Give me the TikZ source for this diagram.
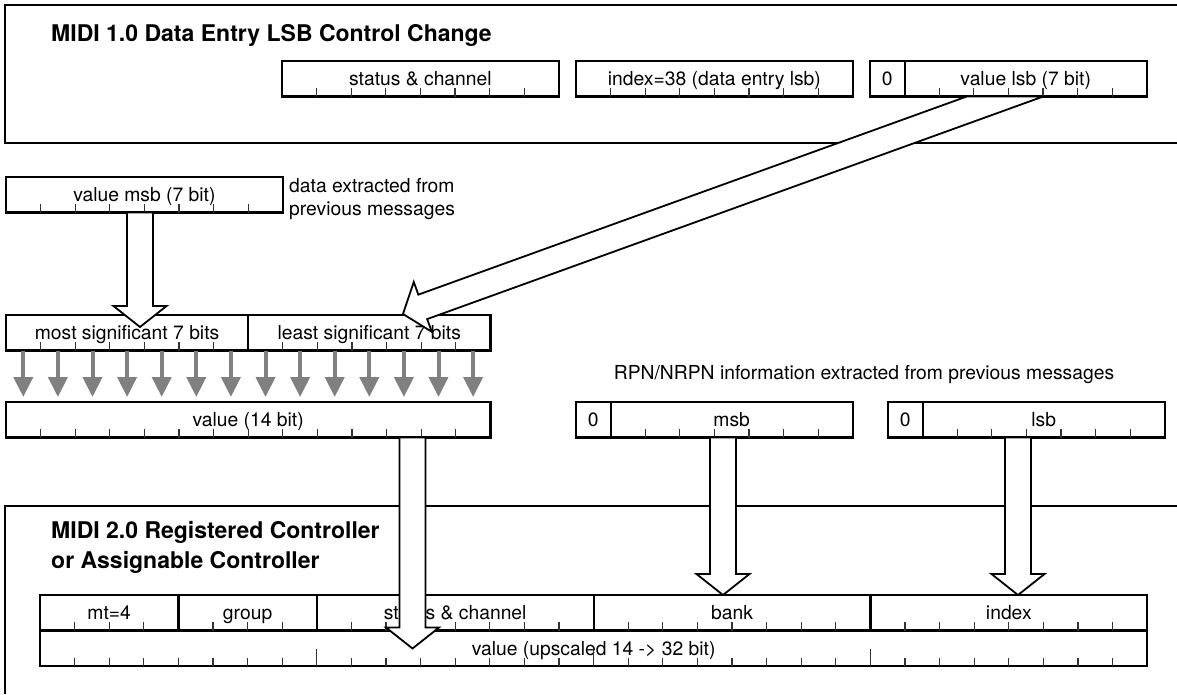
\documentclass[tikz,border=0pt]{standalone}
\usepackage{fontspec}
\setmainfont{TeX Gyre Heros}
\usepackage{tikz}
\usetikzlibrary{arrows.meta, positioning, calc}
\tikzset{
  bitbox/.style={
    rectangle, draw=black, line width=2.2pt, fill=white,
    minimum width=#1*34.6pt, minimum height=35.5pt,
    text height=15pt, text depth=1.5pt,
    inner sep=0pt, outer sep=0pt, anchor=north west,
    font=\fontsize{19.3}{22}\selectfont
  },
  bittick/.style={line width=1.2pt, draw=black!80},
  bitarrow/.style={-{Triangle[length=20pt,width=19pt]}, line width=4pt, draw=black!50},
  fat/.style={draw=black, line width=1.8pt, fill=white, line join=miter},
  panel/.style={line width=1.6pt, draw=black},
  heading/.style={anchor=base west, inner sep=0pt, font=\fontsize{23}{29}\selectfont\bfseries},
  note/.style={inner sep=0pt, align=left, font=\fontsize{19.3}{22.5}\selectfont}
}
% small ticks along the bottom of a field
\newcommand{\bitticks}[2]{%
  \foreach \k in {1,...,#2}
    \draw[bittick] ($(#1.south west)+(\k*34.6,0)$) -- ++(0,-8.5);
}
% hollow block arrow: start, tip, half width at start
\newcommand{\fatarrow}[3]{%
  \coordinate (fa) at ($(#2)!21pt!(#1)$);
  \draw[fat] ($(#1)+(#3,0)$) -- ($(fa)!13pt!90:(#2)$) -- ($(fa)!26.5pt!90:(#2)$)
    -- (#2) -- ($(fa)!26.5pt!-90:(#2)$) -- ($(fa)!13pt!-90:(#2)$)
    -- ($(#1)+(-#3,0)$) -- cycle;
}
\begin{document}
\begin{tikzpicture}[x=1pt, y=-1pt]
  \useasboundingbox (0,0) rectangle (1177,694);

  % MIDI 1.0 message
  \draw[panel] (1177,5) -- (5,5) -- (5,143) -- (1177,143);
  \node[heading] (title1) at (51,41) {MIDI 1.0 Data Entry LSB Control Change};
  \node[bitbox=8] (status1) at (282,61) {status \& channel};
  \node[bitbox=8] (index1) at (576,61) {index=38 (data entry lsb)};
  \node[bitbox=1] (zero1) at (870,61) {0};
  \node[bitbox=7, right=0pt of zero1] (lsb1) {value lsb (7 bit)};

  % translation
  \node[bitbox=8] (msbval) at (6,177) {value msb (7 bit)};
  \node[note, anchor=west] (msbnote) at (289,199) {data extracted from\\previous messages};
  \node[bitbox=7] (most) at (6,315) {most significant 7 bits};
  \node[bitbox=7, right=0pt of most] (least) {least significant 7 bits};
  \node[bitbox=14] (value14) at (6,402) {value (14 bit)};
  \node[note] (rpnnote) at (864,375) {RPN/NRPN information extracted from previous messages};
  \node[bitbox=1] (zero2) at (576,402) {0};
  \node[bitbox=7, right=0pt of zero2] (msb2) {msb};
  \node[bitbox=1] (zero3) at (888,402) {0};
  \node[bitbox=7, right=0pt of zero3] (lsb2) {lsb};

  % MIDI 2.0 message
  \draw[panel] (1177,506) -- (5,506) -- (5,694);
  \node[heading] (title2) at (51,538) {MIDI 2.0 Registered Controller};
  \node[heading] (title2b) at (51,568) {or Assignable Controller};
  \node[bitbox=4] (mt) at (40,595) {mt=4};
  \node[bitbox=4, right=0pt of mt] (group) {group};
  \node[bitbox=8, right=0pt of group] (status2) {status \& channel};
  \node[bitbox=8, right=0pt of status2] (bank) {bank};
  \node[bitbox=8, right=0pt of bank] (index2) {index};
  \node[bitbox=32] (value32) at (mt.south west) {value (upscaled 14 -> 32 bit)};

  % bit ticks
  \bitticks{status1}{7}
  \bitticks{index1}{7}
  \bitticks{lsb1}{6}
  \bitticks{msbval}{7}
  \bitticks{most}{6}
  \bitticks{least}{6}
  \bitticks{value14}{13}
  \bitticks{msb2}{6}
  \bitticks{lsb2}{6}
  \bitticks{mt}{3}
  \bitticks{group}{3}
  \bitticks{status2}{7}
  \bitticks{bank}{7}
  \bitticks{index2}{7}
  \bitticks{value32}{31}
  \foreach \k in {8,16,24}
    \draw[bittick] ($(value32.south west)+(\k*34.6,0)$) -- ++(0,-17.5);

  % one arrow per bit
  \foreach \k in {0,...,13}
    \draw[bitarrow] ($(most.south west)+({(\k+0.5)*34.6},0)$)
      -- ($(value14.north west)+({(\k+0.5)*34.6},-5)$);

  % block arrows
  \coordinate (msbout) at ($(msbval.south west)+(134,0)$);
  \coordinate (msbin) at ($(most.north west)+(134,12)$);
  \coordinate (lsbout) at ($(lsb1.south west)+(100.4,0)$);
  \coordinate (lsbin) at ($(least.north west)+(154.8,-1)$);
  \coordinate (v14out) at ($(value14.south west)+(406.5,0)$);
  \coordinate (v14in) at ($(value32.north west)+(372.5,18)$);
  \coordinate (bankout) at ($(msb2.south west)+(112.4,0)$);
  \coordinate (bankin) at ($(bank.north west)+(129.4,0)$);
  \coordinate (idxout) at ($(lsb2.south west)+(95.4,0)$);
  \coordinate (idxin) at ($(index2.north west)+(147.6,0)$);
  \fatarrow{msbout}{msbin}{13}
  \fatarrow{lsbout}{lsbin}{38.2}
  \fatarrow{v14out}{v14in}{13}
  \fatarrow{bankout}{bankin}{13}
  \fatarrow{idxout}{idxin}{13}
\end{tikzpicture}
\end{document}
